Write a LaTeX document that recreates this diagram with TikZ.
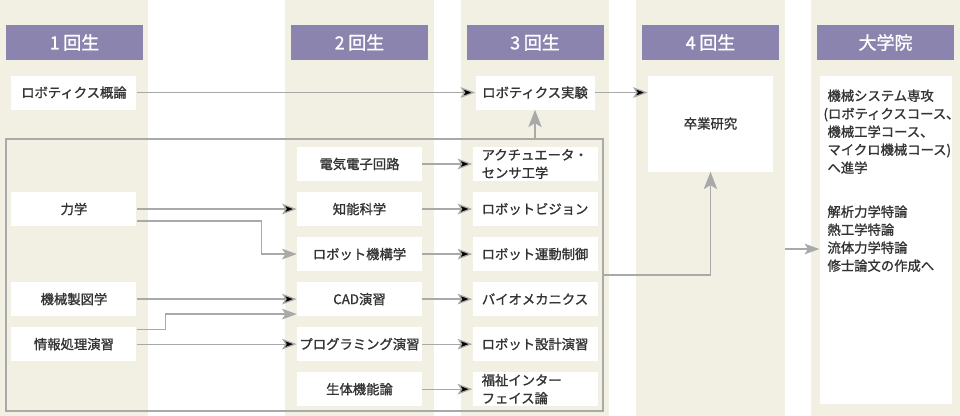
\documentclass[tikz,border=0pt]{standalone}
\usepackage{fontspec}
\setmainfont{Noto Sans CJK JP}[FakeBold=1.2]
\usepackage{tikz}
\usetikzlibrary{positioning, arrows.meta}
\definecolor{colbg}{HTML}{F2F0E3}
\definecolor{headbg}{HTML}{8B84AE}
\definecolor{linegray}{HTML}{A9A9A9}
\definecolor{textgray}{HTML}{333333}
\tikzset{x=0.75pt, y=-0.75pt, >={Stealth[length=11pt, width=8pt, inset=2.5pt]}, node distance=7.875pt, every node/.style={font=\fontsize{10pt}{13.5pt}\selectfont, text=textgray}}

\begin{document}
\begin{tikzpicture}[header/.style={fill=headbg, text=white, minimum width=102.75pt, minimum height=26.25pt, inner sep=0pt, font=\fontsize{13.5pt}{15pt}\selectfont},
	course/.style={fill=white, minimum width=93.75pt, minimum height=25.5pt, inner sep=0pt},
	twoline/.style={course, align=left, text width=80pt},
	groupbox/.style={draw=linegray, line width=0.9pt, inner sep=0pt},
	link/.style={draw=linegray, line width=0.9pt},
	bigtip/.style={-{Stealth[length=13pt, width=10pt, inset=3pt]}}]
	\useasboundingbox (0,0) rectangle (960,416);
	% year columns
	\foreach \a/\b in {0/148, 285/434, 461/609, 636/785, 811/960}
		\fill[colbg] (\a,0) rectangle (\b,416);
	\foreach \x/\t [count=\i] in {74.5/1\hspace{0.2em}回生, 359.5/2\hspace{0.2em}回生, 535/3\hspace{0.2em}回生, 710.5/4\hspace{0.2em}回生, 885.5/大学院}
		\node[header] (h\i) at (\x, 42.5) {\t};
	\node[groupbox, minimum width=447.75pt, minimum height=204pt] (block) at (304.5, 275) {};
	% 2nd year
	\node[course] (Denki) at (359.5, 164) {電気電子回路};
	\node[course, below=of Denki] (Chino) {知能科学};
	\node[course, below=of Chino] (Kiko) {ロボット機構学};
	\node[course, below=of Kiko] (CAD) {CAD演習};
	\node[course, below=of CAD] (Prog) {プログラミング演習};
	\node[course, below=of Prog] (Seitai) {生体機能論};
	% 3rd year
	\node[course, minimum width=89.25pt, below=11.25pt of h3] (Jikken) {ロボティクス実験};
	\node[twoline, right=37.5pt of Denki] (Actu) {アクチュエータ・\\センサ工学};
	\node[course, right=37.5pt of Chino] (Vision) {ロボットビジョン};
	\node[course, right=37.5pt of Kiko] (Seigyo) {ロボット運動制御};
	\node[course, right=37.5pt of CAD] (Bio) {バイオメカニクス};
	\node[course, right=37.5pt of Prog] (Sekkei) {ロボット設計演習};
	\node[twoline, right=37.5pt of Seitai] (Fukushi) {福祉インター\\フェイス論};
	% 1st year
	\node[course, left=120pt of Chino] (Rikigaku) {力学};
	\node[course, left=120pt of CAD] (Seizu) {機械製図学};
	\node[course, left=120pt of Prog] (Joho) {情報処理演習};
	\node[course] (Gairon) at (Rikigaku |- Jikken) {ロボティクス概論};
	% 4th year and graduate school
	\node[course, minimum height=72pt, below=11.25pt of h4] (Sotsuken) {卒業研究};
	\node[fill=white, minimum width=99pt, minimum height=246pt, inner sep=0pt, below=11.25pt of h5] (Daigakuin) {};
	\node[anchor=north west, align=left, inner sep=0pt] (DaigakuinText) at ([xshift=6pt, yshift=-10.5pt]Daigakuin.north west) {機械システム専攻\\\hspace*{-3pt}(ロボティクスコース\makebox[0.5em][l]{、}\\機械工学コース、\\マイクロ機械コース)\\へ進学\\[19.5pt]解析力学特論\\熱工学特論\\流体力学特論\\修士論文の作成へ};
	\coordinate (Shingaku) at (785, 249);
	\draw[link, ->]
		(Gairon) edge (Jikken)
		(Jikken) edge (Sotsuken.west |- Jikken.east)
		(Rikigaku) edge (Chino)
		(Seizu) edge (CAD)
		(Joho) edge (Prog)
		(Denki) edge (Actu)
		(Chino) edge (Vision)
		(Kiko) edge (Seigyo)
		(CAD) edge (Bio)
		(Prog) edge (Sekkei)
		(Seitai) edge (Fukushi)
		(Shingaku) -- (Daigakuin.west |- Shingaku);
	\draw[link, ->] ([yshift=-9pt]Rikigaku.east) -- ++(125,0) |- (Kiko.west);
	\draw[link, ->] ([yshift=11.25pt]Joho.east) -- ++(29,0) |- ([yshift=-11.25pt]CAD.west);
	\draw[link, bigtip] (Jikken.south |- block.north) -- (Jikken.south);
	\draw[link, bigtip] (block.east) -| (Sotsuken.south);
\end{tikzpicture}
\end{document}
